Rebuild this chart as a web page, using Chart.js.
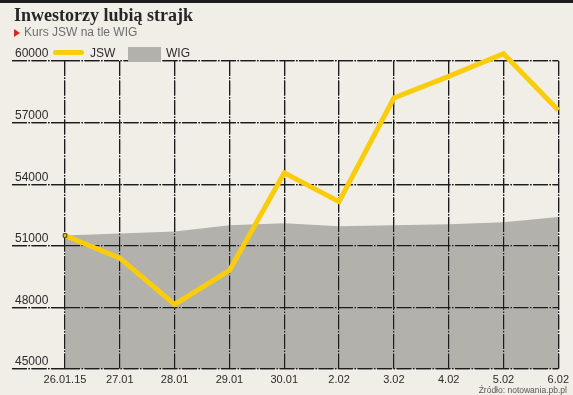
<!DOCTYPE html>
<html>
<head>
<meta charset="utf-8">
<script src="https://cdn.jsdelivr.net/npm/chart.js@4.4.1/dist/chart.umd.min.js"></script>
<style>
    html, body { margin: 0; padding: 0; background: #f1eee8; }
    #wrap { position: relative; width: 573px; height: 395px; background: #f1eee8; overflow: hidden; }
    #topbar { position: absolute; left: 0; top: 0; width: 573px; height: 3px; background: #1c1c1c; }
    #title { position: absolute; left: 14px; top: 5px; font: bold 18px "Liberation Serif", serif; color: #262626; white-space: nowrap; }
    #sub { position: absolute; left: 24px; top: 25px; font: 12px "Liberation Sans", sans-serif; color: #6e6e6e; white-space: nowrap; }
    #tri { position: absolute; left: 14px; top: 29px; width: 0; height: 0; border-top: 4px solid transparent; border-bottom: 4px solid transparent; border-left: 6px solid #d8281e; }
    .leg { position: absolute; font: 12px "Liberation Sans", sans-serif; color: #2b2b2b; white-space: nowrap; }
    #legJsw { position: absolute; left: 53px; top: 50px; width: 31px; height: 5px; border-radius: 3px; background: #f9cc0c; }
    #legWig { position: absolute; left: 128px; top: 47px; width: 33px; height: 15px; background: #b3b1ac; }
    #src { position: absolute; right: 6px; top: 385px; font: 8.5px "Liberation Sans", sans-serif; color: #555; white-space: nowrap; }
    canvas { position: absolute; left: 0; top: 0; }
</style>
</head>
<body>
<div id="wrap">
    <canvas id="chart" width="573" height="395"></canvas>
    <div id="topbar"></div>
    <div id="title">Inwestorzy lubią strajk</div>
    <div id="tri"></div>
    <div id="sub">Kurs JSW na tle WIG</div>
    <div id="legJsw"></div>
    <div class="leg" style="left:90px; top:46px;">JSW</div>
    <div id="legWig"></div>
    <div class="leg" style="left:166px; top:46px;">WIG</div>
    <div id="src">Źródło: notowania.pb.pl</div>
</div>
<script>
// dane
const dni = ['26.01.15', '27.01', '28.01', '29.01', '30.01', '2.02', '3.02', '4.02', '5.02', '6.02'];
const kursJSW = [51500, 50400, 48150, 49800, 54550, 53150, 58200, 59250, 60350, 57600];
const kursWIG = [51500, 51600, 51700, 52000, 52100, 51950, 52000, 52050, 52150, 52400];
const osY = { min: 45000, max: 60000, krok: 3000 };

const KRESKI = [15, 1.5, 1.5, 1.5];

// siatka rysowana ponownie nad wypełnieniem WIG, ale pod linią JSW
const siatkaNaWierzchu = {
    id: 'siatkaNaWierzchu',
    afterDatasetDraw(chart, args) {
        if (args.index !== 1) return;
        chart.scales.x.drawGrid(chart.chartArea);
        chart.scales.y.drawGrid(chart.chartArea);
    }
};

new Chart(document.getElementById('chart'), {
    type: 'line',
    data: {
        labels: dni,
        datasets: [
            {
                label: 'JSW',
                data: kursJSW,
                order: 0,
                borderColor: '#f9cc0c',
                borderWidth: 5,
                borderJoinStyle: 'miter',
                tension: 0,
                fill: false,
                clip: false,
                pointStyle: 'rect',
                pointRadius: kursJSW.map((v, i) => i === 0 ? 2.5 : 0),
                pointBackgroundColor: '#f9cc0c',
                pointBorderColor: '#3a3a3a',
                pointBorderWidth: 1
            },
            {
                label: 'WIG',
                data: kursWIG,
                order: 1,
                borderWidth: 0,
                borderColor: 'rgba(0,0,0,0)',
                backgroundColor: '#b3b1ac',
                fill: 'start',
                tension: 0,
                pointRadius: 0
            }
        ]
    },
    options: {
        responsive: false,
        animation: false,
        layout: { padding: { left: 15, right: 14, top: 61, bottom: 0 } },
        plugins: { legend: { display: false }, tooltip: { enabled: false } },
        scales: {
            x: {
                offset: false,
                grid: { color: '#1b1b1b', lineWidth: 1.2, drawTicks: false },
                border: { display: false, dash: KRESKI },
                ticks: {
                    color: '#2b2b2b', padding: 4, maxRotation: 0, autoSkip: false,
                    font: { family: 'Liberation Sans', size: 11 }
                },
                afterFit: (s) => { s.height = 26; }
            },
            y: {
                min: osY.min,
                max: osY.max,
                grid: {
                    color: '#1b1b1b', lineWidth: 1.2, drawTicks: true, tickLength: 53,
                    tickColor: '#1b1b1b', tickWidth: 1.2, tickBorderDash: KRESKI
                },
                border: { display: false, dash: KRESKI },
                ticks: {
                    stepSize: osY.krok, align: 'end', crossAlign: 'far', labelOffset: -1,
                    color: '#2b2b2b', font: { family: 'Liberation Sans', size: 12 },
                    callback: (v) => String(v)
                },
                afterFit: (s) => { s.width = 50; }
            }
        }
    },
    plugins: [siatkaNaWierzchu]
});
</script>
</body>
</html>
